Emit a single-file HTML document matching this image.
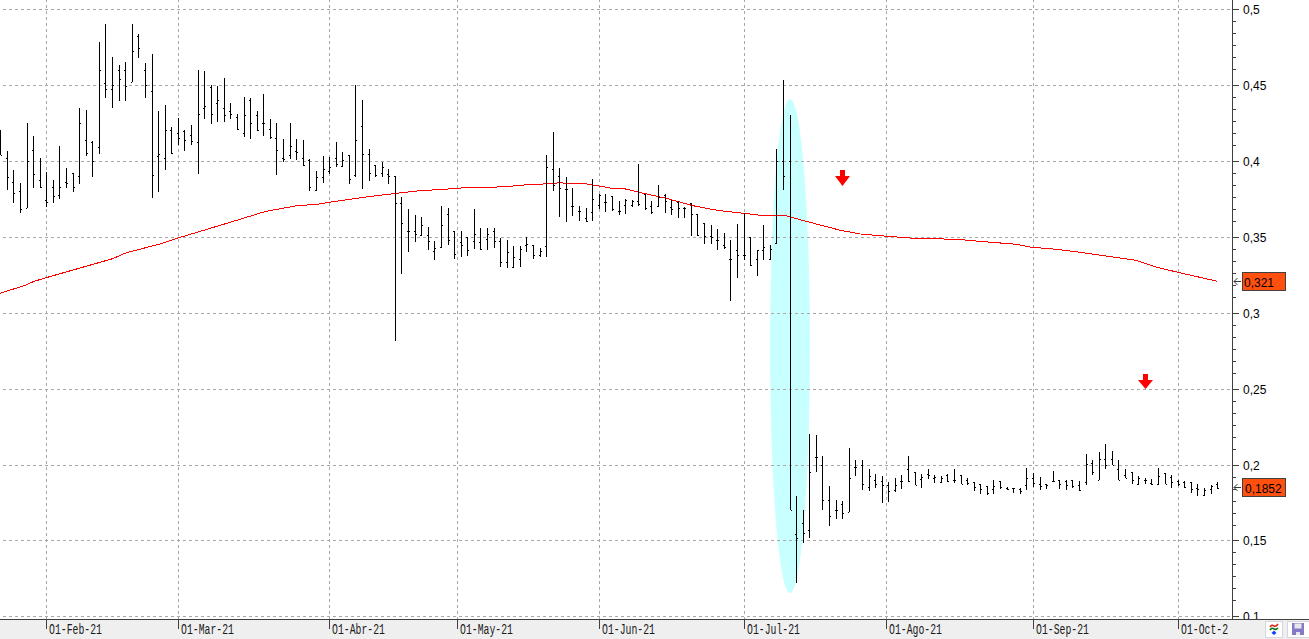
<!DOCTYPE html><html><head><meta charset="utf-8"><style>
html,body{margin:0;padding:0;background:#fff;}
body{width:1309px;height:639px;overflow:hidden;position:relative;font-family:"Liberation Sans",sans-serif;}
svg{position:absolute;left:0;top:0;}
.dl{position:absolute;top:623px;font-family:"Liberation Mono",monospace;font-size:9.8px;color:#1a1a1a;transform-origin:0 0;transform:scaleY(1.5);white-space:nowrap;line-height:10px;}
.pl{position:absolute;font-size:12px;color:#000;line-height:12px;white-space:nowrap;}
</style></head><body>
<svg width="1309" height="639" viewBox="0 0 1309 639">
<ellipse cx="790" cy="346" rx="20" ry="247" fill="#c8ffff"/>
<g shape-rendering="crispEdges">
<line x1="0" y1="9.5" x2="1231" y2="9.5" stroke="#a8a8a8" stroke-width="1" stroke-dasharray="3 3" stroke-dashoffset="3"/>
<line x1="0" y1="85.5" x2="1231" y2="85.5" stroke="#a8a8a8" stroke-width="1" stroke-dasharray="3 3" stroke-dashoffset="3"/>
<line x1="0" y1="161.5" x2="1231" y2="161.5" stroke="#a8a8a8" stroke-width="1" stroke-dasharray="3 3" stroke-dashoffset="3"/>
<line x1="0" y1="237.5" x2="1231" y2="237.5" stroke="#a8a8a8" stroke-width="1" stroke-dasharray="3 3" stroke-dashoffset="3"/>
<line x1="0" y1="313.5" x2="1231" y2="313.5" stroke="#a8a8a8" stroke-width="1" stroke-dasharray="3 3" stroke-dashoffset="3"/>
<line x1="0" y1="389.5" x2="1231" y2="389.5" stroke="#a8a8a8" stroke-width="1" stroke-dasharray="3 3" stroke-dashoffset="3"/>
<line x1="0" y1="465.5" x2="1231" y2="465.5" stroke="#a8a8a8" stroke-width="1" stroke-dasharray="3 3" stroke-dashoffset="3"/>
<line x1="0" y1="540.5" x2="1231" y2="540.5" stroke="#a8a8a8" stroke-width="1" stroke-dasharray="3 3" stroke-dashoffset="3"/>
<line x1="0" y1="616.5" x2="1231" y2="616.5" stroke="#a8a8a8" stroke-width="1" stroke-dasharray="3 3" stroke-dashoffset="3"/>
<line x1="46.5" y1="0" x2="46.5" y2="619" stroke="#a8a8a8" stroke-width="1" stroke-dasharray="3 3" stroke-dashoffset="1"/>
<line x1="178.5" y1="0" x2="178.5" y2="619" stroke="#a8a8a8" stroke-width="1" stroke-dasharray="3 3" stroke-dashoffset="1"/>
<line x1="329.5" y1="0" x2="329.5" y2="619" stroke="#a8a8a8" stroke-width="1" stroke-dasharray="3 3" stroke-dashoffset="1"/>
<line x1="457.5" y1="0" x2="457.5" y2="619" stroke="#a8a8a8" stroke-width="1" stroke-dasharray="3 3" stroke-dashoffset="1"/>
<line x1="599.5" y1="0" x2="599.5" y2="619" stroke="#a8a8a8" stroke-width="1" stroke-dasharray="3 3" stroke-dashoffset="1"/>
<line x1="744.5" y1="0" x2="744.5" y2="619" stroke="#a8a8a8" stroke-width="1" stroke-dasharray="3 3" stroke-dashoffset="1"/>
<line x1="886.5" y1="0" x2="886.5" y2="619" stroke="#a8a8a8" stroke-width="1" stroke-dasharray="3 3" stroke-dashoffset="1"/>
<line x1="1033.5" y1="0" x2="1033.5" y2="619" stroke="#a8a8a8" stroke-width="1" stroke-dasharray="3 3" stroke-dashoffset="1"/>
<line x1="1178.5" y1="0" x2="1178.5" y2="619" stroke="#a8a8a8" stroke-width="1" stroke-dasharray="3 3" stroke-dashoffset="1"/>
</g>
<polyline points="0.0,293.2 24.4,285.6 33.6,281.5 46.4,277.6 113.0,258.6 125.3,253.1 162.0,243.4 178.8,237.8 229.2,222.6 265.9,211.3 296.4,205.8 317.8,204.2 330.0,202.1 366.7,196.9 400.0,192.9 418.3,190.9 458.0,188.4 465.7,187.5 503.9,186.9 522.2,185.1 546.7,183.8 558.9,182.9 583.3,183.5 595.6,185.4 610.9,188.1 623.0,188.4 638.3,192.1 665.8,198.2 693.4,205.8 717.8,210.4 745.3,213.5 760.6,215.3 785.0,215.3 800.0,219.7 840.4,230.3 860.4,234.0 885.4,236.1 911.7,238.1 957.7,239.4 984.0,241.7 1016.8,244.3 1030.0,247.0 1056.2,249.3 1082.5,252.6 1135.0,260.1 1154.8,266.7 1177.8,272.3 1216.6,281.1" fill="none" stroke="#ff0000" stroke-width="1" shape-rendering="crispEdges"/>
<path d="M0.5,130V155M-1,140.5H0M1,155.5H2M7.5,151V190M6,158.5H7M8,177.5H9M13.5,170V203M12,182.5H13M14,193.5H15M20.5,183V213M19,191.5H20M21,209.5H22M27.5,123V208M26,208.5H27M28,161.5H29M33.5,136V188M32,150.5H33M34,174.5H35M40.5,158V188M39,180.5H40M41,187.5H42M46.5,172V207M45,200.5H46M47,202.5H48M53.5,180V203M52,187.5H53M54,196.5H55M59.5,146V199M58,195.5H59M60,187.5H61M66.5,168V188M65,182.5H66M67,183.5H68M73.5,173V192M72,173.5H73M74,187.5H75M79.5,108V184M78,176.5H79M80,123.5H81M86.5,110V156M85,140.5H86M87,153.5H88M92.5,141V177M91,142.5H92M93,161.5H94M99.5,42V154M98,147.5H99M100,70.5H101M105.5,24V98M104,83.5H105M106,89.5H107M112.5,57V108M111,89.5H112M113,85.5H114M119.5,65V101M118,70.5H119M120,79.5H121M125.5,62V101M124,70.5H125M126,86.5H127M132.5,24V82M131,82.5H132M133,51.5H134M138.5,34V58M137,36.5H138M139,48.5H140M145.5,63V98M144,70.5H145M146,85.5H147M152.5,54V198M151,91.5H152M153,175.5H154M158.5,111V192M157,156.5H158M159,154.5H160M165.5,105V170M164,158.5H165M166,130.5H167M171.5,127V154M170,130.5H171M172,153.5H173M178.5,118V145M177,133.5H178M179,138.5H180M184.5,130V151M183,131.5H184M185,140.5H186M191.5,125V145M190,135.5H191M192,141.5H193M198.5,70V174M197,142.5H198M199,114.5H200M204.5,71V119M203,108.5H204M205,106.5H206M211.5,85V124M210,87.5H211M212,114.5H213M217.5,86V122M216,103.5H217M218,100.5H219M224.5,78V122M223,108.5H224M225,115.5H226M230.5,103V119M229,111.5H230M231,114.5H232M237.5,114V130M236,117.5H237M238,129.5H239M244.5,97V137M243,133.5H244M245,115.5H246M250.5,98V139M249,100.5H250M251,123.5H252M257.5,111V131M256,115.5H257M258,130.5H259M263.5,94V136M262,123.5H263M264,123.5H265M270.5,119V139M269,129.5H270M271,137.5H272M276.5,123V175M275,138.5H276M277,150.5H278M283.5,139V162M282,158.5H283M284,159.5H285M290.5,123V159M289,155.5H290M291,146.5H292M296.5,139V160M295,151.5H296M297,152.5H298M303.5,140V166M302,158.5H303M304,165.5H305M309.5,159V191M308,160.5H309M310,187.5H311M316.5,171V191M315,190.5H316M317,177.5H318M323.5,156V183M322,177.5H323M324,169.5H325M329.5,157V174M328,171.5H329M330,167.5H331M336.5,142V167M335,158.5H336M337,164.5H338M342.5,152V167M341,166.5H342M343,160.5H344M349.5,155V184M348,155.5H349M350,179.5H351M355.5,85V177M354,175.5H355M356,140.5H357M362.5,100V189M361,126.5H362M363,154.5H364M369.5,149V181M368,154.5H369M370,173.5H371M375.5,165V177M374,165.5H375M376,175.5H377M382.5,162V177M381,173.5H382M383,167.5H384M388.5,169V184M387,174.5H388M389,176.5H390M395.5,176V341M394,176.5H395M396,203.5H397M401.5,197V274M400,203.5H401M402,223.5H403M408.5,209V252M407,231.5H408M409,231.5H410M415.5,215V242M414,231.5H415M416,234.5H417M421.5,217V236M420,235.5H421M422,225.5H423M428.5,227V250M427,235.5H428M429,241.5H430M434.5,241V260M433,251.5H434M435,248.5H436M441.5,206V248M440,247.5H441M442,225.5H443M448.5,208V245M447,214.5H448M449,240.5H450M454.5,231V259M453,231.5H454M455,254.5H456M461.5,231V257M460,242.5H461M462,245.5H463M467.5,237V256M466,237.5H467M468,250.5H469M474.5,209V249M473,241.5H474M475,234.5H476M480.5,228V250M479,242.5H480M481,249.5H482M487.5,228V250M486,239.5H487M488,234.5H489M494.5,228V248M493,231.5H494M495,241.5H496M500.5,238V267M499,241.5H500M501,262.5H502M507.5,240V268M506,262.5H507M508,252.5H509M513.5,246V268M512,267.5H513M514,257.5H515M520.5,246V267M519,259.5H520M521,249.5H522M526.5,237V252M525,245.5H526M527,244.5H528M533.5,245V259M532,245.5H533M534,255.5H535M540.5,248V257M539,255.5H540M541,251.5H542M546.5,155V257M545,246.5H546M547,167.5H548M553.5,132V191M552,169.5H553M554,185.5H555M559.5,168V217M558,176.5H559M560,188.5H561M566.5,177V222M565,189.5H566M567,189.5H568M572.5,188V216M571,206.5H572M573,206.5H574M579.5,206V221M578,211.5H579M580,211.5H581M586.5,208V222M585,218.5H586M587,221.5H588M592.5,179V221M591,212.5H592M593,199.5H594M599.5,194V209M598,205.5H599M600,195.5H601M605.5,194V212M604,202.5H605M606,202.5H607M612.5,196V211M611,196.5H612M613,209.5H614M619.5,201V215M618,211.5H619M620,211.5H621M625.5,199V214M624,205.5H625M626,200.5H627M632.5,200V207M631,205.5H632M633,201.5H634M638.5,164V206M637,201.5H638M639,204.5H640M645.5,194V210M644,194.5H645M646,208.5H647M651.5,201V214M650,206.5H651M652,212.5H653M658.5,185V207M657,206.5H658M659,197.5H660M665.5,194V213M664,195.5H665M666,201.5H667M671.5,200V215M670,207.5H671M672,209.5H673M678.5,201V218M677,202.5H678M679,208.5H680M684.5,207V218M683,208.5H684M685,208.5H686M691.5,203V236M690,203.5H691M692,214.5H693M697.5,214V236M696,214.5H697M698,235.5H699M704.5,223V244M703,223.5H704M705,236.5H706M711.5,225V244M710,236.5H711M712,237.5H713M717.5,229V250M716,240.5H717M718,240.5H719M724.5,233V249M723,245.5H724M725,247.5H726M730.5,240V301M729,259.5H730M731,259.5H732M737.5,224V278M736,250.5H737M738,255.5H739M744.5,213V260M743,255.5H744M745,255.5H746M750.5,237V266M749,237.5H750M751,265.5H752M757.5,250V276M756,259.5H757M758,250.5H759M763.5,225V260M762,250.5H763M764,247.5H765M770.5,245V260M769,259.5H770M771,249.5H772M776.5,149V244M775,243.5H776M777,161.5H778M783.5,80V190M782,161.5H783M784,176.5H785M790.5,115V510M789,161.5H790M791,510.5H792M796.5,496V583M795,534.5H796M797,538.5H798M803.5,510V543M802,523.5H803M804,533.5H805M809.5,434V538M808,530.5H809M810,472.5H811M816.5,435V472M815,457.5H816M817,457.5H818M822.5,456V510M821,465.5H822M823,500.5H824M829.5,486V526M828,500.5H829M830,516.5H831M836.5,500V519M835,510.5H836M837,510.5H838M842.5,501V519M841,504.5H842M843,513.5H844M849.5,448V512M848,512.5H849M850,478.5H851M855.5,460V476M854,467.5H855M856,467.5H857M862.5,460V490M861,465.5H862M863,484.5H864M869.5,469V491M868,487.5H869M870,476.5H871M875.5,474V488M874,480.5H875M876,484.5H877M882.5,476V503M881,481.5H882M883,485.5H884M888.5,482V502M887,485.5H888M889,491.5H890M895.5,478V492M894,490.5H895M896,485.5H897M901.5,475V489M900,481.5H901M902,481.5H903M908.5,456V482M907,469.5H908M909,481.5H910M915.5,472V485M914,472.5H915M916,485.5H917M921.5,474V488M920,479.5H921M922,477.5H923M928.5,469V479M927,474.5H928M929,475.5H930M934.5,475V483M933,478.5H934M935,477.5H936M941.5,476V483M940,482.5H941M942,478.5H943M947.5,474V482M946,475.5H947M948,481.5H949M954.5,469V483M953,480.5H954M955,480.5H956M961.5,475V484M960,475.5H961M962,484.5H963M967.5,478V485M966,480.5H967M968,483.5H969M974.5,482V491M973,482.5H974M975,487.5H976M980.5,484V494M979,484.5H980M981,489.5H982M987.5,486V495M986,486.5H987M988,493.5H989M993.5,480V494M992,489.5H993M994,486.5H995M1000.5,481V489M999,481.5H1000M1001,487.5H1002M1007.5,487V490M1006,488.5H1007M1008,489.5H1009M1013.5,488V493M1012,488.5H1013M1014,488.5H1015M1020.5,488V494M1019,489.5H1020M1021,491.5H1022M1026.5,468V490M1025,485.5H1026M1027,478.5H1028M1033.5,473V487M1032,478.5H1033M1034,483.5H1035M1040.5,477V490M1039,484.5H1040M1041,486.5H1042M1046.5,484V489M1045,484.5H1046M1047,485.5H1048M1053.5,471V482M1052,481.5H1053M1054,481.5H1055M1059.5,480V489M1058,480.5H1059M1060,484.5H1061M1066.5,480V490M1065,481.5H1066M1067,485.5H1068M1072.5,480V488M1071,480.5H1072M1073,486.5H1074M1079.5,481V491M1078,485.5H1079M1080,490.5H1081M1086.5,454V485M1085,482.5H1086M1087,464.5H1088M1092.5,460V475M1091,463.5H1092M1093,472.5H1094M1099.5,452V480M1098,480.5H1099M1100,459.5H1101M1105.5,444V469M1104,459.5H1105M1106,465.5H1107M1112.5,451V465M1111,459.5H1112M1113,465.5H1114M1118.5,460V480M1117,469.5H1118M1119,480.5H1120M1125.5,469V478M1124,475.5H1125M1126,478.5H1127M1132.5,472V484M1131,472.5H1132M1133,480.5H1134M1138.5,476V485M1137,484.5H1138M1139,478.5H1140M1145.5,478V484M1144,480.5H1145M1146,480.5H1147M1151.5,479V485M1150,483.5H1151M1152,484.5H1153M1158.5,468V485M1157,484.5H1158M1159,476.5H1160M1165.5,473V484M1164,473.5H1165M1166,484.5H1167M1171.5,475V488M1170,477.5H1171M1172,482.5H1173M1178.5,480V486M1177,481.5H1178M1179,484.5H1180M1184.5,481V488M1183,482.5H1184M1185,487.5H1186M1191.5,482V493M1190,482.5H1191M1192,489.5H1193M1197.5,484V496M1196,488.5H1197M1198,489.5H1199M1204.5,488V496M1203,495.5H1204M1205,490.5H1206M1211.5,485V494M1210,489.5H1211M1212,486.5H1213M1217.5,482V489M1216,484.5H1217M1218,488.5H1219" stroke="#000" stroke-width="1" fill="none" shape-rendering="crispEdges"/>
<path d="M840,170H845V176H850L842.5,186L835,176H840Z" fill="#ff0000"/>
<path d="M1143,374H1148V380H1153L1145.5,389L1138,380H1143Z" fill="#ff0000"/>
<g shape-rendering="crispEdges" stroke="#404040">
<line x1="1232.5" y1="0" x2="1232.5" y2="620" stroke-width="1"/>
<line x1="1232" y1="9.5" x2="1239" y2="9.5"/>
<line x1="1232" y1="21.5" x2="1236" y2="21.5"/>
<line x1="1232" y1="33.5" x2="1236" y2="33.5"/>
<line x1="1232" y1="45.5" x2="1236" y2="45.5"/>
<line x1="1232" y1="57.5" x2="1236" y2="57.5"/>
<line x1="1232" y1="69.5" x2="1236" y2="69.5"/>
<line x1="1232" y1="85.5" x2="1239" y2="85.5"/>
<line x1="1232" y1="97.5" x2="1236" y2="97.5"/>
<line x1="1232" y1="109.5" x2="1236" y2="109.5"/>
<line x1="1232" y1="121.5" x2="1236" y2="121.5"/>
<line x1="1232" y1="133.5" x2="1236" y2="133.5"/>
<line x1="1232" y1="145.5" x2="1236" y2="145.5"/>
<line x1="1232" y1="161.5" x2="1239" y2="161.5"/>
<line x1="1232" y1="173.5" x2="1236" y2="173.5"/>
<line x1="1232" y1="185.5" x2="1236" y2="185.5"/>
<line x1="1232" y1="197.5" x2="1236" y2="197.5"/>
<line x1="1232" y1="209.5" x2="1236" y2="209.5"/>
<line x1="1232" y1="221.5" x2="1236" y2="221.5"/>
<line x1="1232" y1="237.5" x2="1239" y2="237.5"/>
<line x1="1232" y1="249.5" x2="1236" y2="249.5"/>
<line x1="1232" y1="261.5" x2="1236" y2="261.5"/>
<line x1="1232" y1="273.5" x2="1236" y2="273.5"/>
<line x1="1232" y1="285.5" x2="1236" y2="285.5"/>
<line x1="1232" y1="297.5" x2="1236" y2="297.5"/>
<line x1="1232" y1="313.5" x2="1239" y2="313.5"/>
<line x1="1232" y1="325.5" x2="1236" y2="325.5"/>
<line x1="1232" y1="337.5" x2="1236" y2="337.5"/>
<line x1="1232" y1="349.5" x2="1236" y2="349.5"/>
<line x1="1232" y1="361.5" x2="1236" y2="361.5"/>
<line x1="1232" y1="373.5" x2="1236" y2="373.5"/>
<line x1="1232" y1="389.5" x2="1239" y2="389.5"/>
<line x1="1232" y1="401.5" x2="1236" y2="401.5"/>
<line x1="1232" y1="413.5" x2="1236" y2="413.5"/>
<line x1="1232" y1="425.5" x2="1236" y2="425.5"/>
<line x1="1232" y1="437.5" x2="1236" y2="437.5"/>
<line x1="1232" y1="449.5" x2="1236" y2="449.5"/>
<line x1="1232" y1="465.5" x2="1239" y2="465.5"/>
<line x1="1232" y1="477.5" x2="1236" y2="477.5"/>
<line x1="1232" y1="489.5" x2="1236" y2="489.5"/>
<line x1="1232" y1="501.5" x2="1236" y2="501.5"/>
<line x1="1232" y1="513.5" x2="1236" y2="513.5"/>
<line x1="1232" y1="525.5" x2="1236" y2="525.5"/>
<line x1="1232" y1="540.5" x2="1239" y2="540.5"/>
<line x1="1232" y1="552.5" x2="1236" y2="552.5"/>
<line x1="1232" y1="564.5" x2="1236" y2="564.5"/>
<line x1="1232" y1="576.5" x2="1236" y2="576.5"/>
<line x1="1232" y1="588.5" x2="1236" y2="588.5"/>
<line x1="1232" y1="600.5" x2="1236" y2="600.5"/>
<line x1="1232" y1="616.5" x2="1239" y2="616.5"/>
</g>
<rect x="0" y="620" width="1309" height="19" fill="#efefef"/>
<line x1="0" y1="619.5" x2="1309" y2="619.5" stroke="#404040" stroke-width="1" shape-rendering="crispEdges"/>
<line x1="46.5" y1="619" x2="46.5" y2="629" stroke="#404040" stroke-width="1" shape-rendering="crispEdges"/>
<line x1="178.5" y1="619" x2="178.5" y2="629" stroke="#404040" stroke-width="1" shape-rendering="crispEdges"/>
<line x1="329.5" y1="619" x2="329.5" y2="629" stroke="#404040" stroke-width="1" shape-rendering="crispEdges"/>
<line x1="457.5" y1="619" x2="457.5" y2="629" stroke="#404040" stroke-width="1" shape-rendering="crispEdges"/>
<line x1="599.5" y1="619" x2="599.5" y2="629" stroke="#404040" stroke-width="1" shape-rendering="crispEdges"/>
<line x1="744.5" y1="619" x2="744.5" y2="629" stroke="#404040" stroke-width="1" shape-rendering="crispEdges"/>
<line x1="886.5" y1="619" x2="886.5" y2="629" stroke="#404040" stroke-width="1" shape-rendering="crispEdges"/>
<line x1="1033.5" y1="619" x2="1033.5" y2="629" stroke="#404040" stroke-width="1" shape-rendering="crispEdges"/>
<line x1="1178.5" y1="619" x2="1178.5" y2="629" stroke="#404040" stroke-width="1" shape-rendering="crispEdges"/>
<rect x="1242.5" y="272.5" width="43" height="18" fill="#ff5010" stroke="#404040" stroke-width="1"/>
<rect x="1242.5" y="478.5" width="43" height="18" fill="#ff5010" stroke="#404040" stroke-width="1"/>
<path d="M1241,281.5H1234M1237.5,278.0L1234,281.5L1237.5,285.0" stroke="#383838" stroke-width="1" fill="none"/>
<path d="M1241,487.5H1234M1237.5,484.0L1234,487.5L1237.5,491.0" stroke="#383838" stroke-width="1" fill="none"/>
<rect x="1265.5" y="621.5" width="17" height="16" fill="#fff" stroke="#d4d8dc"/>
<rect x="1287.5" y="621.5" width="30" height="16" fill="#fff" stroke="#d4d8dc"/>
<path d="M1270,627 q2,-3 4,-1 q2,1 4,-2" stroke="#e02010" stroke-width="1.6" fill="none"/>
<path d="M1270,630 q2,-3 4,-1 q2,1 4,-1" stroke="#107010" stroke-width="1.6" fill="none"/>
<path d="M1274,630.5 L1276.5,633 L1274,635 L1271.5,633Z" fill="#1040ff"/>
<rect x="1292" y="623" width="12" height="12" fill="#8878c8"/>
<rect x="1294.5" y="623.5" width="7" height="5" fill="#e8e8e8"/>
<rect x="1296" y="632" width="4" height="3" fill="#e8e8e8"/>
</svg>
<div class="dl" style="left:49px">O1-Feb-21</div>
<div class="dl" style="left:181px">O1-Mar-21</div>
<div class="dl" style="left:332px">O1-Abr-21</div>
<div class="dl" style="left:460px">O1-May-21</div>
<div class="dl" style="left:602px">O1-Jun-21</div>
<div class="dl" style="left:747px">O1-Jul-21</div>
<div class="dl" style="left:889px">O1-Ago-21</div>
<div class="dl" style="left:1036px">O1-Sep-21</div>
<div class="dl" style="left:1181px">O1-Oct-2</div>
<div style="position:absolute;left:0;top:0;width:1309px;height:619px;overflow:hidden">
<div class="pl" style="left:1243px;top:4px">0,5</div>
<div class="pl" style="left:1243px;top:80px">0,45</div>
<div class="pl" style="left:1243px;top:156px">0,4</div>
<div class="pl" style="left:1243px;top:232px">0,35</div>
<div class="pl" style="left:1243px;top:308px">0,3</div>
<div class="pl" style="left:1243px;top:384px">0,25</div>
<div class="pl" style="left:1243px;top:460px">0,2</div>
<div class="pl" style="left:1243px;top:535px">0,15</div>
<div class="pl" style="left:1243px;top:611px">0,1</div>
</div>
<div class="pl" style="left:1244px;top:277px">0,321</div>
<div class="pl" style="left:1245px;top:483px">0,1852</div>
</body></html>
